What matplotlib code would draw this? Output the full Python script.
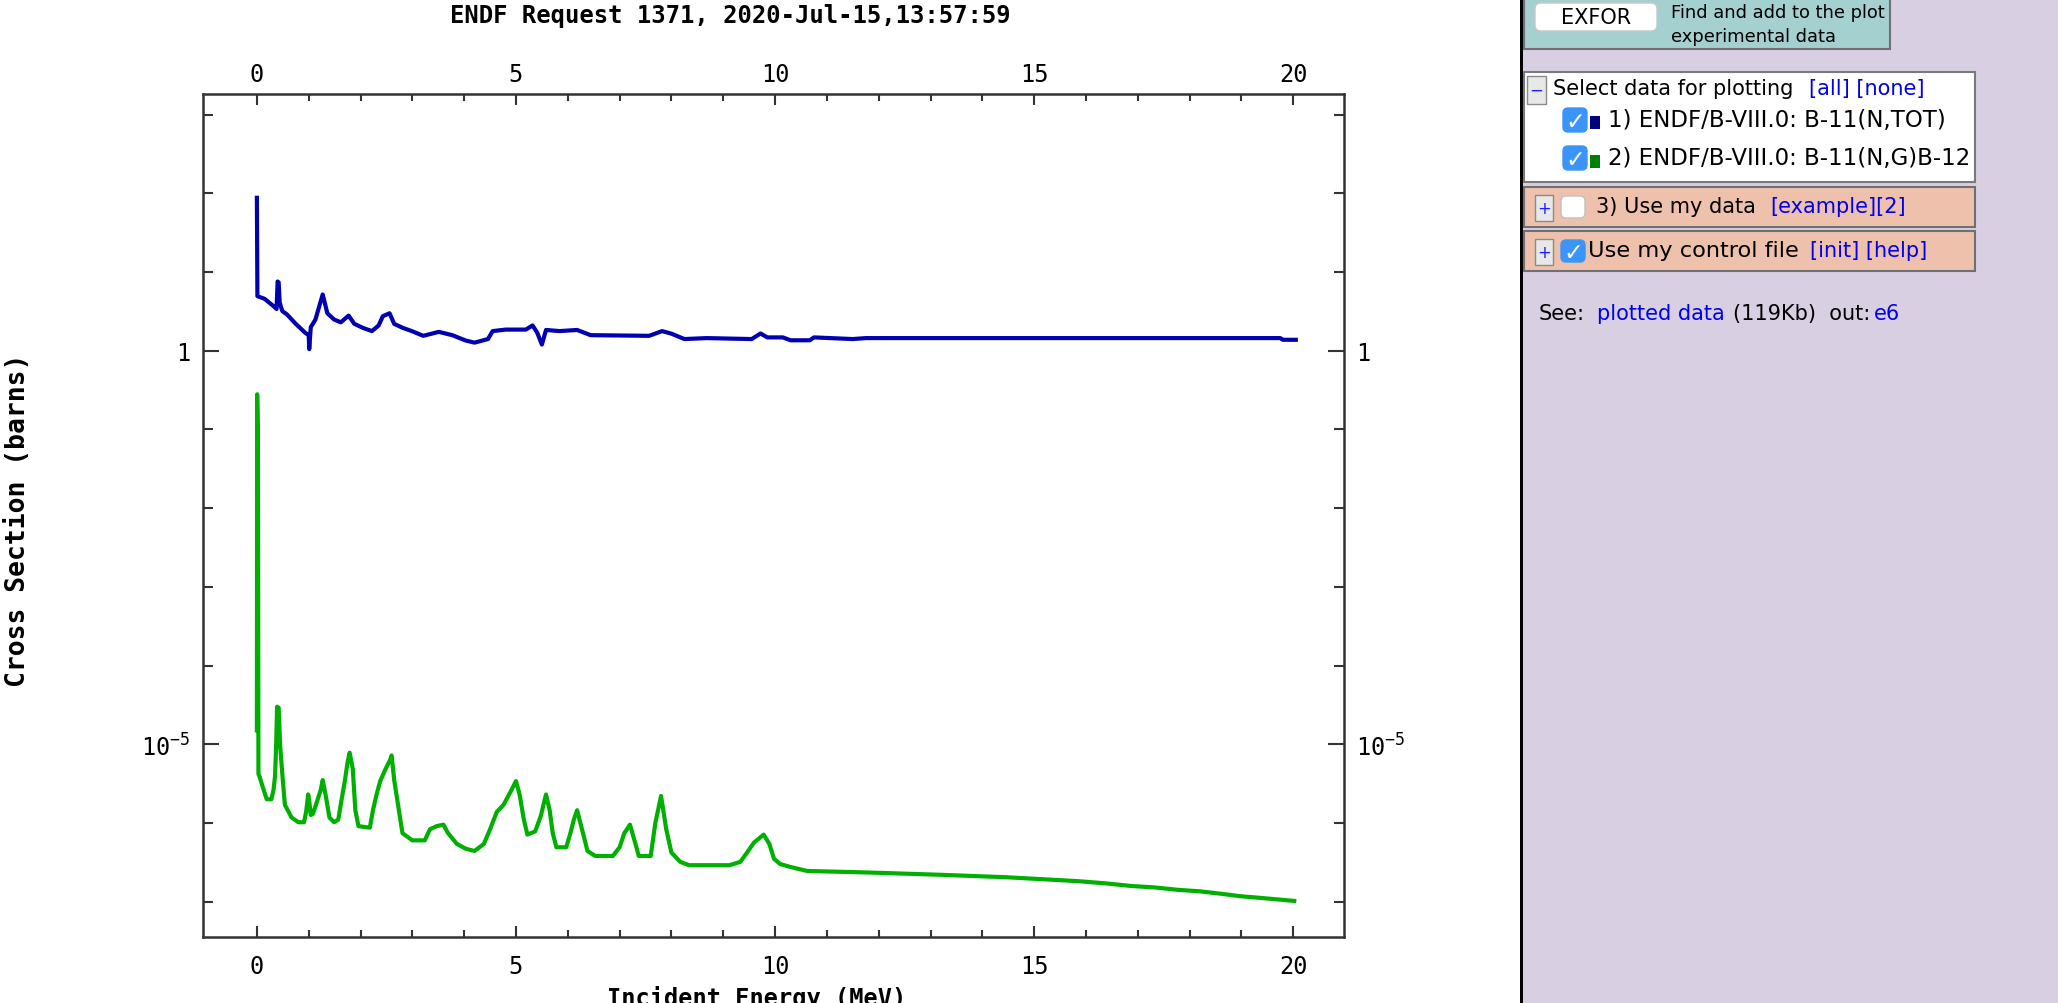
import matplotlib
matplotlib.use('Agg')
import matplotlib.pyplot as plt
from matplotlib.patches import Rectangle, FancyBboxPatch
from matplotlib.ticker import FixedLocator, FixedFormatter, NullFormatter

plt.rcParams['font.family'] = ['DejaVu Sans Mono', 'DejaVu Sans']

# ENDF/B-VIII.0 B-11(n,tot), energy in MeV, cross section in barns
tot_e = [0.0, 0.01, 0.15, 0.32, 0.38, 0.40, 0.42, 0.44, 0.49, 0.58, 0.75, 0.93,
         1.00, 1.01, 1.04, 1.08, 1.13, 1.27, 1.36, 1.49, 1.62, 1.77, 1.88, 2.05,
         2.22, 2.35, 2.43, 2.56, 2.65, 2.82, 2.99, 3.21, 3.51, 3.77, 4.03, 4.20,
         4.46, 4.55, 4.80, 5.19, 5.32, 5.41, 5.50, 5.58, 5.84, 6.18, 6.44, 7.57,
         7.82, 8.00, 8.25, 8.68, 9.55, 9.72, 9.85, 10.15, 10.30, 10.67, 10.75,
         11.50, 11.75, 12.5, 19.75, 19.8, 20.05]
tot_xs = [88.0, 4.95, 4.57, 3.7, 3.4, 7.6, 7.4, 4.1, 3.2, 2.9, 2.2, 1.7,
          1.58, 1.05, 2.0, 2.2, 2.5, 5.2, 3.0, 2.5, 2.3, 2.8, 2.2, 1.95,
          1.78, 2.1, 2.75, 3.0, 2.2, 1.95, 1.78, 1.55, 1.74, 1.58, 1.35, 1.27,
          1.41, 1.78, 1.86, 1.86, 2.1, 1.7, 1.2, 1.84, 1.78, 1.84, 1.58, 1.55,
          1.78, 1.65, 1.41, 1.45, 1.41, 1.66, 1.48, 1.48, 1.36, 1.36, 1.48,
          1.41, 1.45, 1.45, 1.45, 1.38, 1.38]

# ENDF/B-VIII.0 B-11(n,g)B-12
cap_e = [0.0, 0.005, 0.02, 0.03, 0.05, 0.11, 0.19, 0.28, 0.32, 0.35, 0.37, 0.39,
         0.42, 0.45, 0.50, 0.54, 0.67, 0.80, 0.91, 0.95, 0.99, 1.01, 1.04, 1.08,
         1.14, 1.23, 1.27, 1.33, 1.40, 1.49, 1.57, 1.63, 1.70, 1.75, 1.79, 1.85,
         1.90, 1.96, 2.18, 2.24, 2.31, 2.38, 2.48, 2.57, 2.60, 2.65, 2.74, 2.81,
         3.00, 3.24, 3.34, 3.47, 3.60, 3.69, 3.86, 4.03, 4.20, 4.38, 4.50, 4.63,
         4.76, 4.89, 5.00, 5.07, 5.15, 5.22, 5.37, 5.48, 5.54, 5.58, 5.65, 5.71,
         5.78, 5.97, 6.05, 6.12, 6.18, 6.27, 6.38, 6.53, 6.87, 7.00, 7.09, 7.20,
         7.30, 7.37, 7.60, 7.69, 7.80, 7.90, 8.00, 8.17, 8.34, 9.12, 9.33, 9.46,
         9.59, 9.78, 9.89, 9.98, 10.1, 10.3, 10.62, 11.83, 13.2, 14.46, 15.32,
         15.84, 16.4, 16.87, 17.34, 17.78, 18.2, 18.6, 18.98, 19.33, 19.67, 20.02]
cap_xs = [1.5e-5, 0.28, 0.08, 4.2e-6, 3.9e-6, 2.9e-6, 2.0e-6, 2.0e-6, 2.6e-6, 3.9e-6, 8.9e-6, 3.0e-5,
          2.9e-5, 9.3e-6, 3.5e-6, 1.7e-6, 1.17e-6, 1.02e-6, 1.02e-6, 1.38e-6, 2.3e-6, 1.9e-6, 1.26e-6, 1.3e-6,
          1.7e-6, 2.6e-6, 3.5e-6, 2.2e-6, 1.17e-6, 1.02e-6, 1.1e-6, 1.9e-6, 3.5e-6, 5.9e-6, 7.8e-6, 4.9e-6,
          1.45e-6, 9.1e-7, 8.7e-7, 1.45e-6, 2.3e-6, 3.4e-6, 4.8e-6, 6.3e-6, 7.2e-6, 3.5e-6, 1.45e-6, 7.4e-7,
          6.0e-7, 6.0e-7, 8.3e-7, 9.1e-7, 9.5e-7, 7.4e-7, 5.4e-7, 4.7e-7, 4.4e-7, 5.4e-7, 8.3e-7, 1.38e-6,
          1.7e-6, 2.45e-6, 3.4e-6, 2.3e-6, 1.12e-6, 7.1e-7, 7.8e-7, 1.23e-6, 1.8e-6, 2.3e-6, 1.45e-6, 7.4e-7,
          4.9e-7, 4.9e-7, 7.4e-7, 1.12e-6, 1.45e-6, 8.5e-7, 4.4e-7, 3.8e-7, 3.8e-7, 4.9e-7, 7.4e-7, 9.5e-7,
          5.6e-7, 3.8e-7, 3.8e-7, 1.0e-6, 2.2e-6, 8.3e-7, 4.2e-7, 3.2e-7, 2.9e-7, 2.9e-7, 3.2e-7, 4.2e-7,
          5.6e-7, 7.1e-7, 5.4e-7, 3.5e-7, 3.0e-7, 2.75e-7, 2.45e-7, 2.34e-7, 2.19e-7, 2.04e-7, 1.9e-7,
          1.82e-7, 1.7e-7, 1.58e-7, 1.51e-7, 1.41e-7, 1.35e-7, 1.26e-7, 1.17e-7, 1.12e-7, 1.07e-7, 1.02e-7]

x_major = [0, 5, 10, 15, 20]
x_minor = [v for v in range(1, 20) if v % 5]
y_major = [1e-5, 1.0]
y_major_labels = [r'$\mathregular{10^{-5}}$', '1']
y_minor = [1e-7, 1e-6, 1e-4, 1e-3, 1e-2, 1e-1, 10, 100, 1000]

W, H = 2058, 1004
fig = plt.figure(figsize=(W / 100, H / 100), dpi=100)
fig.patch.set_facecolor('white')

ax = fig.add_axes([203 / W, 1 - 938 / H, (1344 - 203) / W, (938 - 94.5) / H])
ax.plot(tot_e, tot_xs, color='#0000b0', lw=3)
ax.plot(cap_e, cap_xs, color='#00b000', lw=3)
ax.set_yscale('log')
ax.set_xlim(-1.04, 20.98)
ax.set_ylim(10 ** -7.45, 10 ** 3.27)

frame = '#333333'
for sp in ax.spines.values():
    sp.set_color(frame)
    sp.set_linewidth(1.8)

ax.xaxis.set_major_locator(FixedLocator(x_major))
ax.xaxis.set_minor_locator(FixedLocator(x_minor))
ax.yaxis.set_major_locator(FixedLocator(y_major))
ax.yaxis.set_major_formatter(FixedFormatter(y_major_labels))
ax.yaxis.set_minor_locator(FixedLocator(y_minor))
ax.yaxis.set_minor_formatter(NullFormatter())

ax.tick_params(which='both', direction='in', color=frame, width=1.5, labelsize=17,
               top=True, right=True, labelright=True)
ax.tick_params(axis='x', which='major', length=8, pad=12)
ax.tick_params(axis='x', which='minor', length=5)
ax.tick_params(axis='y', which='major', length=11.5, pad=9)
ax.tick_params(axis='y', which='minor', length=7)

top = ax.secondary_xaxis('top')
top.set_xticks(x_major)
top.tick_params(direction='in', length=0, labelsize=17, pad=5.5)
top.spines['top'].set_visible(False)

# overlay in pixel coordinates for labels and the side panel
ov = fig.add_axes([0, 0, 1, 1])
ov.set_xlim(0, W)
ov.set_ylim(H, 0)
ov.axis('off')

ov.text(730, 16, 'ENDF Request 1371, 2020-Jul-15,13:57:59', ha='center', va='center',
        fontsize=17.2, fontweight='bold')
ov.text(18, 520, 'Cross Section (barns)', rotation=90, ha='center', va='center',
        fontsize=19, fontweight='bold')
ov.text(757, 986, 'Incident Energy (MeV)', ha='center', va='top', fontsize=17,
        fontweight='bold')

# side panel
sans = 'DejaVu Sans'
link = '#0000ee'
ov.add_patch(Rectangle((1523, 0), W - 1523, H, fc='#d8d0e2', ec='none'))
ov.add_patch(Rectangle((1520, 0), 3.2, H, fc='black', ec='none'))

ov.add_patch(Rectangle((1524, -3), 366, 53, fc='#a4d0d0', ec='#707070', lw=1.5))
ov.add_patch(FancyBboxPatch((1535, 4), 122, 28, boxstyle='round,pad=0,rounding_size=6',
                            fc='white', ec='#c8c8c8', lw=1))
ov.text(1596, 18, 'EXFOR', ha='center', va='center', fontsize=15, family=sans)
ov.text(1671, 13, 'Find and add to the plot', va='center', fontsize=12.9, family=sans)
ov.text(1671, 37, 'experimental data', va='center', fontsize=12.9, family=sans)


def button(x, y, h, sign):
    ov.add_patch(Rectangle((x, y), 18.5, h, fc='#e8e8e8', ec='#8a8a8a', lw=1))
    ov.text(x + 9.25, y + h / 2, sign, ha='center', va='center', fontsize=12,
            color='#2020ff', family=sans)


def checkbox(x, y, w, h, checked):
    if checked:
        ov.add_patch(FancyBboxPatch((x, y), w, h, boxstyle='round,pad=0,rounding_size=5',
                                    fc='#3b95f8', ec='#3b95f8', lw=1))
        ov.text(x + w / 2, y + h / 2 + 1, '\u2713', ha='center', va='center', fontsize=17,
                color='white', fontweight='bold', family=sans)
    else:
        ov.add_patch(FancyBboxPatch((x, y), w, h, boxstyle='round,pad=0,rounding_size=5',
                                    fc='white', ec='#c0c0c0', lw=1))


fs = 15
ov.add_patch(Rectangle((1524, 73), 451, 110, fc='white', ec='#7a7a7a', lw=1.5))
button(1527, 77, 28, '\u2212')
ov.text(1553, 89, 'Select data for plotting', va='center', fontsize=fs, family=sans)
ov.text(1809, 89, '[all] [none]', va='center', fontsize=fs, family=sans, color=link)
checkbox(1563, 109, 24, 24, True)
ov.add_patch(Rectangle((1590, 117), 10, 13, fc='#000080', ec='none'))
ov.text(1608, 121, '1) ENDF/B-VIII.0: B-11(N,TOT)', va='center', fontsize=16.5, family=sans)
checkbox(1563, 147, 24, 24, True)
ov.add_patch(Rectangle((1590, 156), 10, 13, fc='#008000', ec='none'))
ov.text(1608, 159, '2) ENDF/B-VIII.0: B-11(N,G)B-12', va='center', fontsize=16.5, family=sans)

ov.add_patch(Rectangle((1524, 188), 451, 40, fc='#eec1ad', ec='#707070', lw=1.5))
button(1534.5, 196, 26, '+')
checkbox(1561, 197, 24, 22, False)
ov.text(1596, 207, '3) Use my data', va='center', fontsize=fs, family=sans)
ov.text(1770, 207, '[example][2]', va='center', fontsize=fs, family=sans, color=link)

ov.add_patch(Rectangle((1524, 232), 451, 40, fc='#eec1ad', ec='#707070', lw=1.5))
button(1534.5, 240, 26, '+')
checkbox(1561, 241, 24, 22, True)
ov.text(1588, 251, 'Use my control file', va='center', fontsize=16.2, family=sans)
ov.text(1810, 251, '[init] [help]', va='center', fontsize=fs, family=sans, color=link)

ov.text(1539, 314, 'See:', va='center', fontsize=fs, family=sans)
ov.text(1597, 314, 'plotted data', va='center', fontsize=fs, family=sans, color=link)
ov.text(1733, 314, '(119Kb)  out:', va='center', fontsize=fs, family=sans)
ov.text(1874, 314, 'e6', va='center', fontsize=fs, family=sans, color=link)

fig.savefig('out.png', dpi=100)
